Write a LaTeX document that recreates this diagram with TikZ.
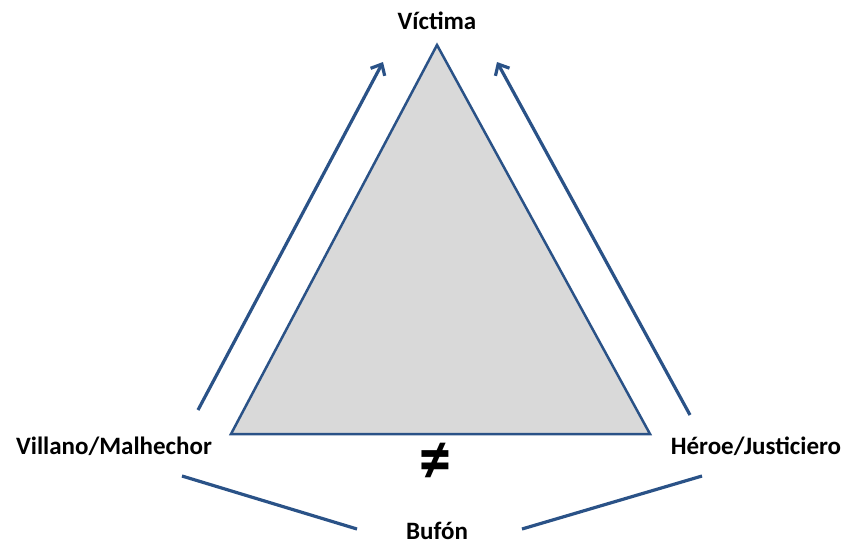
\documentclass[tikz,border=0pt]{standalone}
\usepackage{fontspec}
\setmainfont{Carlito}
\usetikzlibrary{arrows.meta}
\definecolor{navy}{HTML}{2A5287}
\definecolor{tri}{HTML}{D9D9D9}
\begin{document}
\begin{tikzpicture}[x=1pt,y=-1pt,
  lbl/.style={font=\fontsize{25}{30}\selectfont\bfseries, inner sep=0pt, text=black, anchor=base},
  conn/.style={draw=navy, line width=3.2pt},
  arr/.style={conn, -{Straight Barb[length=9pt,width=16pt,line width=3.2pt]}}]
\useasboundingbox (0,0) rectangle (845,544);
\coordinate (A) at (437,45);
\coordinate (B) at (231,434);
\coordinate (C) at (650,434);
\filldraw[fill=tri, draw=navy, line width=2.5pt, line join=miter] (A) -- (B) -- (C) -- cycle;
\node[lbl] (vic) at (437,29) {Víctima};
\node[lbl] (vil) at (114,454) {Villano/Malhechor};
\node[lbl] (her) at (756,454) {Héroe/Justiciero};
\node[lbl] (buf) at (437,539) {Bufón};
\node[lbl, font=\fontsize{64}{64}\selectfont\bfseries, anchor=center, yscale=1.15] (neq) at (435,463) {≠};
\coordinate (l1) at (198,410); \coordinate (l2) at (383,62);
\coordinate (r1) at (690,415); \coordinate (r2) at (497,62);
\coordinate (b1) at (182,476); \coordinate (b2) at (357,529);
\coordinate (b3) at (522,529); \coordinate (b4) at (702,476);
\draw[arr] (l1) -- (l2);
\draw[arr] (r1) -- (r2);
\draw[conn] (b1) -- (b2);
\draw[conn] (b3) -- (b4);
\end{tikzpicture}
\end{document}
